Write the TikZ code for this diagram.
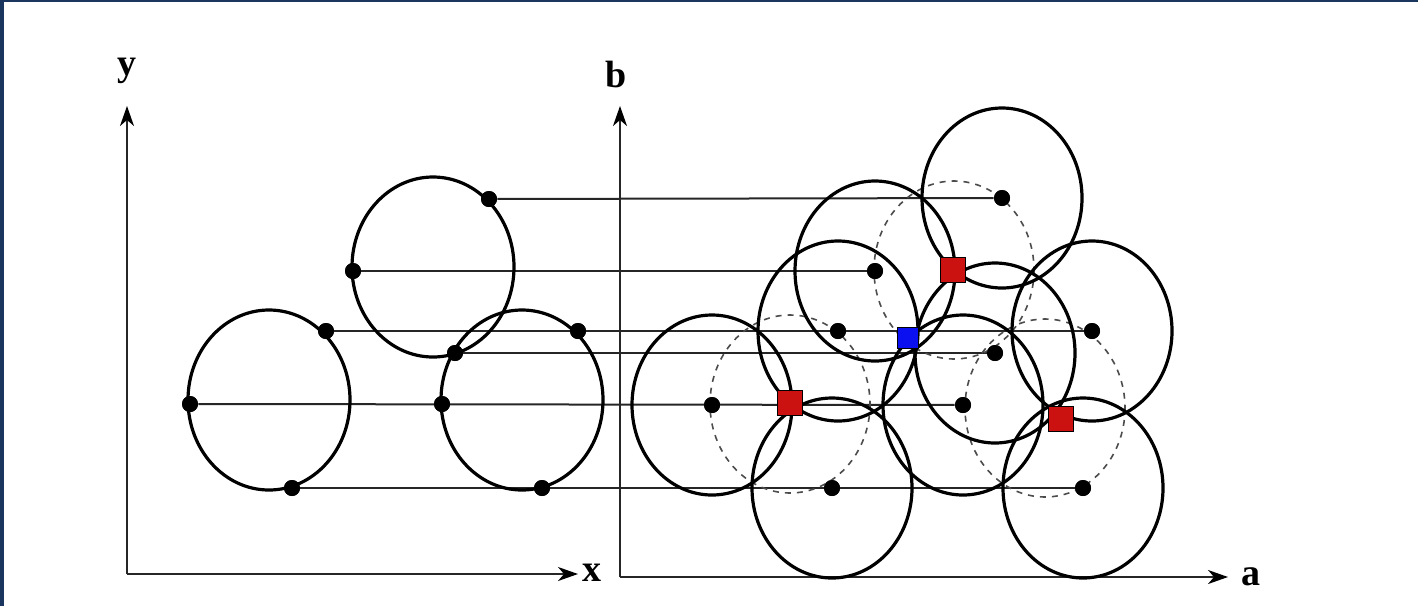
\documentclass[tikz,border=0pt]{standalone}
\usepackage{fontspec}
\setmainfont{Liberation Serif}
\usetikzlibrary{arrows.meta}
\definecolor{framecol}{HTML}{1B365E}
\definecolor{peakred}{HTML}{CC1111}
\definecolor{peakblue}{HTML}{0A10F0}
\begin{document}
\begin{tikzpicture}[x=0.5pt,y=-0.5pt,
  ring/.style={line width=1.6pt, black},
  ghost/.style={line width=0.8pt, dash pattern=on 3pt off 3pt, black!70},
  link/.style={line width=1pt, black!85},
  axisline/.style={line width=0.8pt, black!85, -{Stealth[length=10pt,width=7pt,inset=3pt,black]}},
  dot/.style={circle, fill=black, inner sep=0pt, minimum size=8pt},
  peak/.style={draw=black, line width=0.6pt, fill=#1, inner sep=0pt, minimum size=12.5pt},
  lbl/.style={font=\fontsize{19}{23}\selectfont\bfseries, inner sep=0pt}
]
\useasboundingbox (0,0) rectangle (1418,606);
\fill[white] (0,0) rectangle (1418,606);
\fill[framecol] (0,0) rectangle (4,606);
\fill[framecol] (0,0) rectangle (1418,2);

% axes
\coordinate (o1) at (127,574);
\coordinate (y1) at (127,106);
\coordinate (x1) at (578,574);
\coordinate (o2) at (620,577);
\coordinate (b2) at (620,106);
\coordinate (a2) at (1228,577);
\draw[axisline] (o1) -- (y1);
\draw[axisline] (o1) -- (x1);
\draw[axisline] (o2) -- (b2);
\draw[axisline] (o2) -- (a2);
\node[lbl] (ly) at (127,71) {y};
\node[lbl] (lx) at (592,573) {x};
\node[lbl] (lb) at (616,74) {b};
\node[lbl] (la) at (1251,577) {a};

% left image-space circles
\coordinate (c1) at (269,400);
\coordinate (c2) at (433,267);
\coordinate (c3) at (522,400);

% edge points (left)
\node[dot] (p1) at (489,199) {};
\node[dot] (p2) at (353,271) {};
\node[dot] (p3) at (326,331) {};
\node[dot] (p4) at (578,331) {};
\node[dot] (p5) at (455,353) {};
\node[dot] (p6) at (190,404) {};
\node[dot] (p7) at (442,404) {};
\node[dot] (p8) at (292,488) {};
\node[dot] (p9) at (542,488) {};

% parameter-space points (right)
\node[dot] (r1) at (1002,198) {};
\node[dot] (r2) at (875,271) {};
\node[dot] (r3) at (838,331) {};
\node[dot] (r4) at (1092,331) {};
\node[dot] (r5) at (995,353) {};
\node[dot] (r6) at (712,405) {};
\node[dot] (r7) at (963,405) {};
\node[dot] (r8) at (832,488) {};
\node[dot] (r9) at (1083,488) {};

% projection lines
\draw[link] (p1) -- (r1);
\draw[link] (p2) -- (r2);
\draw[link] (p3) -- (r4);
\draw[link] (p5) -- (r5);
\draw[link] (p6) -- (r7);
\draw[link] (p8) -- (r9);

% left circles
\foreach \c in {c1,c2,c3}
  \draw[ring] (\c) ellipse [x radius=81, y radius=90];

% dashed true circles in parameter space
\coordinate (d1) at (790,404);
\coordinate (d2) at (954,270);
\coordinate (d3) at (1045,408);
\foreach \c in {d1,d2,d3}
  \draw[ghost] (\c) ellipse [x radius=80, y radius=89];

% solid voting circles
\foreach \c in {r1,r2,r3,r4,r5,r6,r7,r8,r9}
  \draw[ring] (\c.center) ellipse [x radius=80, y radius=90];

% dots on top of the circles
\foreach \n in {p1,p2,p3,p4,p5,p6,p7,p8,p9,r1,r2,r3,r4,r5,r6,r7,r8,r9}
  \fill (\n.center) circle[radius=8];

% accumulator peaks
\node[peak=peakred] (m1) at (790,403) {};
\node[peak=peakred] (m2) at (953,270) {};
\node[peak=peakred] (m3) at (1061,419) {};
\node[peak=peakblue, minimum size=10.5pt] (m4) at (908,338) {};
\end{tikzpicture}
\end{document}
